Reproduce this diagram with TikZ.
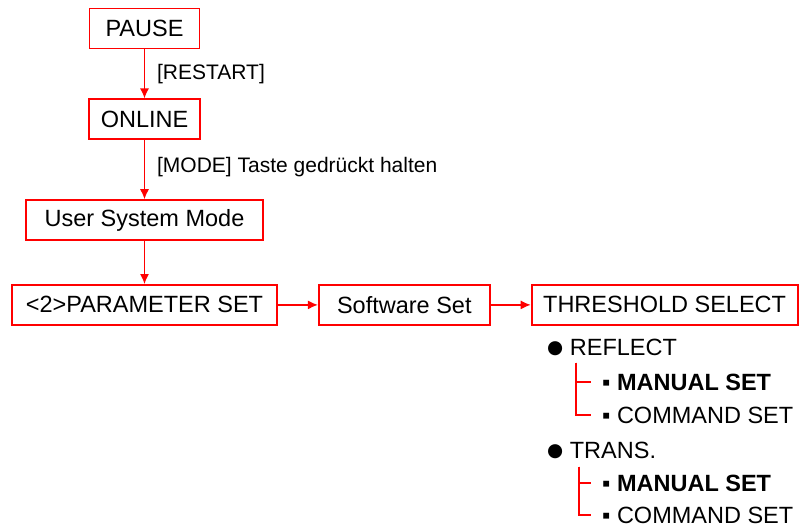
\documentclass[tikz,border=0pt]{standalone}
\usepackage{fontspec}
\setmainfont{Liberation Sans}
\newfontfamily\symfont{DejaVu Sans}
\usetikzlibrary{arrows.meta,positioning}

\begin{document}
\begin{tikzpicture}[
  x=1pt, y=1pt,
  node distance=40pt,
  box/.style={draw=red, line width=1.8pt, minimum height=40pt, inner xsep=10pt, font=\fontsize{23.5}{28}\selectfont},
  arrow/.style={-{Latex[length=10pt,width=9pt]}, red, line width=1.3pt},
  lbl/.style={inner sep=0pt, text=black, font=\fontsize{21}{25}\selectfont},
  item/.style={anchor=west, inner sep=0pt, text height=17pt, text depth=0pt, font=\fontsize{23.5}{28}\selectfont},
  tree/.style={red, line width=1.2pt}
]
\useasboundingbox (0,0) rectangle (807,-528);

% main chain
\node[box, minimum width=110pt] (pause) at (144.5,-28.5) {PAUSE};
\node[box, minimum width=111pt, below=49pt of pause] (online) {ONLINE};
\node[box, minimum width=237pt, below=59pt of online] (usermode) {User System Mode};
\node[box, minimum width=265pt, below=43pt of usermode] (paramset) {<2>PARAMETER SET};
\node[box, minimum width=171pt, right=of paramset] (softset) {Software Set};
\node[box, minimum width=266pt, right=of softset] (thresh) {THRESHOLD SELECT};

\draw[arrow] (pause) -- node[lbl, right=12pt] {[RESTART]} (online);
\draw[arrow] (online) -- node[lbl, pos=0.45, right=12pt] {[MODE] Taste gedrückt halten} (usermode);
\draw[arrow] (usermode) -- (paramset);
\draw[arrow] (paramset) -- (softset);
\draw[arrow] (softset) -- (thresh);

% threshold options
\node[item] (reflect) at (547,-347) {\raisebox{2pt}{\symfont\fontsize{18.5}{20}\selectfont ●} REFLECT};
\node[item] (manual1) at (602,-382) {▪ \textbf{MANUAL SET}};
\node[item] (command1) at (602,-415) {▪ COMMAND SET};
\node[item] (trans) at (547,-450) {\raisebox{2pt}{\symfont\fontsize{18.5}{20}\selectfont ●} TRANS.};
\node[item] (manual2) at (602,-483) {▪ \textbf{MANUAL SET}};
\node[item] (command2) at (602,-515) {▪ COMMAND SET};

\draw[tree] ([shift={(29pt,-7pt)}]reflect.south west) |- ([xshift=-11pt]manual1.west);
\draw[tree] ([shift={(29pt,-7pt)}]reflect.south west) |- ([xshift=-11pt]command1.west);
\draw[tree] ([shift={(32pt,-8pt)}]trans.south west) |- ([xshift=-11pt]manual2.west);
\draw[tree] ([shift={(32pt,-8pt)}]trans.south west) |- ([xshift=-11pt]command2.west);
\end{tikzpicture}
\end{document}
